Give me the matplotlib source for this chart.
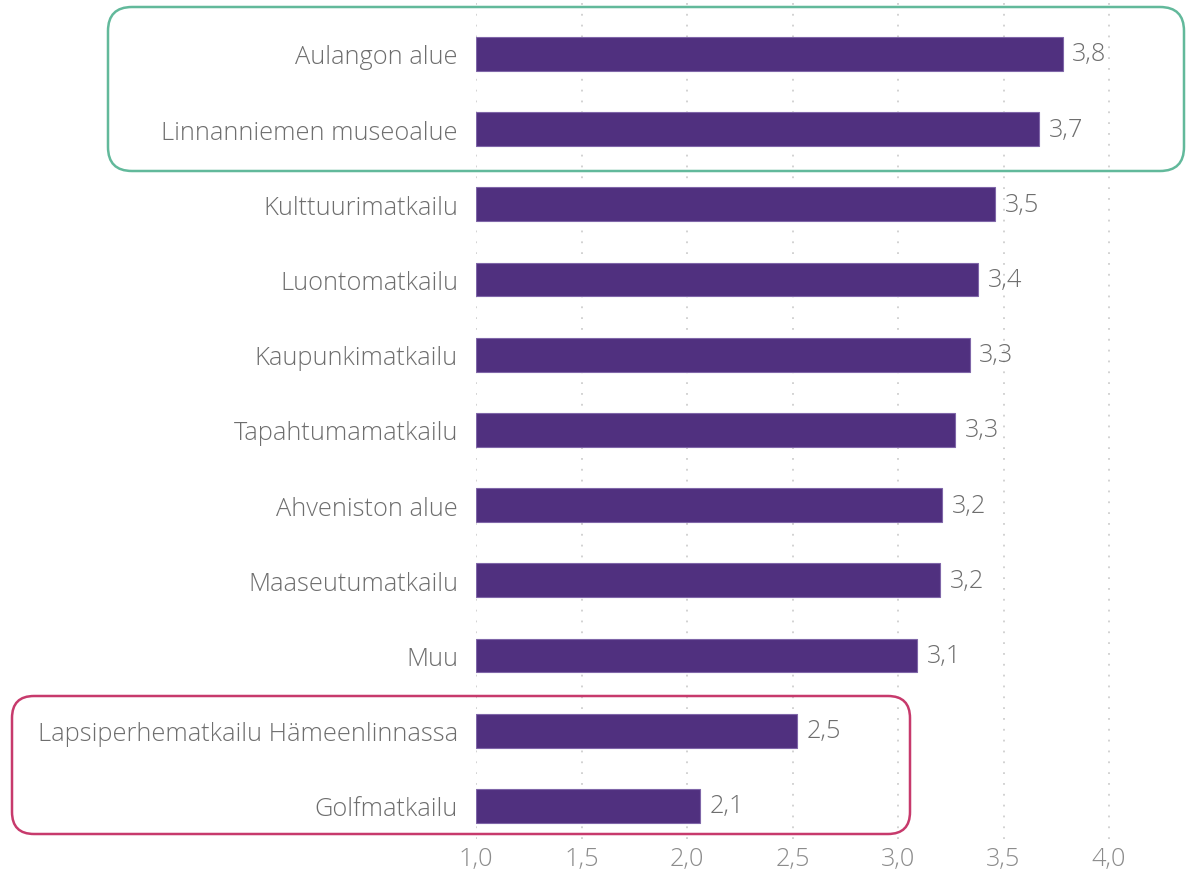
import matplotlib.pyplot as plt
from matplotlib.patches import FancyBboxPatch
from matplotlib.transforms import IdentityTransform

# --------------------------------------------------
# Data
# --------------------------------------------------
categories = [
    "Aulangon alue",
    "Linnanniemen museoalue",
    "Kulttuurimatkailu",
    "Luontomatkailu",
    "Kaupunkimatkailu",
    "Tapahtumamatkailu",
    "Ahveniston alue",
    "Maaseutumatkailu",
    "Muu",
    "Lapsiperhematkailu Hämeenlinnassa",
    "Golfmatkailu",
]
values = [3.78, 3.67, 3.46, 3.38, 3.34, 3.27, 3.21, 3.20, 3.09, 2.52, 2.06]
x_ticks = [1.0, 1.5, 2.0, 2.5, 3.0, 3.5, 4.0]

bar_color = "#50307f"
text_gray = "#6e6e6e"
tick_gray = "#8c8c8c"
fsize = 18.3

plt.rcParams["font.family"] = ["Open Sans", "DejaVu Sans"]
plt.rcParams["font.weight"] = "light"

W, H = 1186, 879
fig = plt.figure(figsize=(W / 100, H / 100), dpi=100)

# axes placed in pixels: x=1.0 at px 476, top at 0, bottom at 840
ax = fig.add_axes([476 / W, 1 - 840 / H, (W - 476) / W, 840 / H])

ypos = list(range(len(categories)))
ax.barh(ypos, [v - 1.0 for v in values], left=1.0, height=0.45,
        color=bar_color, edgecolor="#7f66a8", linewidth=0.8, zorder=3)

for y, v in zip(ypos, values):
    ax.text(v + 0.045, y, f"{v:.1f}".replace(".", ","), va="center",
            ha="left", fontsize=fsize, color=text_gray, zorder=4)

ax.set_xlim(1.0, 1.0 + (W - 476) / 211)
ax.set_ylim(10.44, -0.73)

ax.set_yticks(ypos)
ax.set_yticklabels(categories, fontsize=fsize, color=text_gray)
ax.set_xticks(x_ticks)
ax.set_xticklabels([f"{t:.1f}".replace(".", ",") for t in x_ticks],
                   fontsize=fsize, color=tick_gray)
ax.tick_params(axis="y", length=0, pad=13)
ax.tick_params(axis="x", length=0, pad=5)

for t in x_ticks:
    ax.axvline(t, color="#cfcfcf", linestyle=(0, (1, 5)), linewidth=1.3,
               zorder=1)

for s in ax.spines.values():
    s.set_visible(False)

# --------------------------------------------------
# Highlight boxes (pixel coordinates)
# --------------------------------------------------
def box(x0, y0, x1, y1, color, r):
    p = FancyBboxPatch((x0, H - y1), x1 - x0, y1 - y0,
                       boxstyle=f"round,pad=0,rounding_size={r}",
                       transform=IdentityTransform(), fill=False,
                       edgecolor=color, linewidth=1.8, zorder=10)
    fig.patches.append(p)

box(108, 8, 1184, 172, "#62b99b", 24)
box(12, 697, 910, 835, "#c73a6c", 22)

fig.savefig("out.png", dpi=100)
